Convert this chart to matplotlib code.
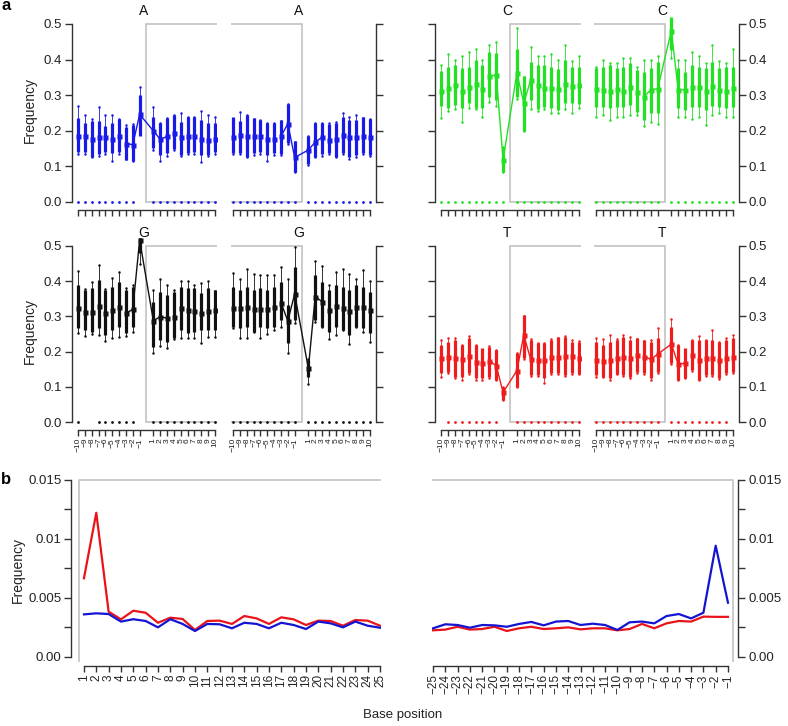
import matplotlib
matplotlib.use('Agg')
import matplotlib.pyplot as plt
from matplotlib.patches import Rectangle
import numpy as np

plt.rcParams['font.family'] = ['Liberation Sans', 'DejaVu Sans']

# ---------------- data: panel a ----------------
positions = [-10, -9, -8, -7, -6, -5, -4, -3, -2, -1, 1, 2, 3, 4, 5, 6, 7, 8, 9, 10]
pos_labels = ['−10', '−9', '−8', '−7', '−6', '−5', '−4', '−3', '−2', '−1',
              '1', '2', '3', '4', '5', '6', '7', '8', '9', '10']
trend_positions = [-3, -2, -1, 1, 2, 3]
letters = ['A', 'C', 'G', 'T']
y_ticks_a = [0.0, 0.1, 0.2, 0.3, 0.4, 0.5]
y_tick_labels_a = ['0.0', '0.1', '0.2', '0.3', '0.4', '0.5']

# A (left half = around site 1, right half = around site 2)
A_left_med = [0.184, 0.184, 0.176, 0.182, 0.182, 0.178, 0.186, 0.164, 0.161, 0.246,
              0.200, 0.176, 0.184, 0.195, 0.182, 0.184, 0.184, 0.178, 0.174, 0.178]
A_left_lo = [0.140, 0.140, 0.125, 0.135, 0.140, 0.137, 0.140, 0.118, 0.114, 0.184,
             0.151, 0.131, 0.137, 0.149, 0.131, 0.137, 0.140, 0.131, 0.131, 0.140]
A_left_hi = [0.235, 0.221, 0.228, 0.228, 0.213, 0.223, 0.233, 0.210, 0.217, 0.300,
             0.240, 0.221, 0.235, 0.244, 0.226, 0.240, 0.238, 0.230, 0.223, 0.223]
A_left_top = [0.270, 0.243, 0.232, 0.268, 0.243, 0.243, 0.232, 0.215, 0.220, 0.324,
              0.268, 0.222, 0.235, 0.244, 0.251, 0.240, 0.240, 0.256, 0.244, 0.240]
A_left_bot = [0.135, 0.135, 0.125, 0.130, 0.135, 0.114, 0.135, 0.120, 0.114, 0.190,
              0.145, 0.114, 0.130, 0.145, 0.128, 0.135, 0.135, 0.111, 0.128, 0.135]
A_right_med = [0.182, 0.187, 0.185, 0.184, 0.185, 0.178, 0.176, 0.184, 0.220, 0.125,
               0.146, 0.168, 0.182, 0.174, 0.176, 0.187, 0.182, 0.182, 0.185, 0.182]
A_right_lo = [0.137, 0.137, 0.127, 0.137, 0.140, 0.131, 0.137, 0.135, 0.165, 0.085,
              0.107, 0.127, 0.135, 0.137, 0.127, 0.137, 0.127, 0.131, 0.137, 0.131]
A_right_hi = [0.238, 0.228, 0.244, 0.235, 0.230, 0.221, 0.221, 0.230, 0.275, 0.170,
              0.184, 0.221, 0.221, 0.219, 0.223, 0.240, 0.230, 0.230, 0.238, 0.234]
A_right_top = [0.232, 0.252, 0.244, 0.232, 0.230, 0.222, 0.222, 0.228, 0.275, 0.168,
               0.184, 0.222, 0.222, 0.222, 0.225, 0.250, 0.238, 0.244, 0.236, 0.232]
A_right_bot = [0.135, 0.135, 0.127, 0.131, 0.135, 0.114, 0.133, 0.133, 0.163, 0.085,
               0.105, 0.125, 0.130, 0.135, 0.125, 0.135, 0.120, 0.127, 0.135, 0.130]
A_left_zero = [-10, -9, -8, -7, -6, -5, -4, -3, -2, 1, 2, 3, 4, 5, 6, 7, 8, 9, 10]
A_right_zero = [-10, -9, -8, -7, -6, -5, -4, -3, -2, -1, 1, 2, 3, 4, 5, 6, 7, 8, 9, 10]

# C
C_left_med = [0.313, 0.320, 0.329, 0.313, 0.322, 0.331, 0.316, 0.354, 0.356, 0.118,
              0.363, 0.277, 0.343, 0.328, 0.320, 0.320, 0.316, 0.331, 0.327, 0.329]
C_left_lo = [0.270, 0.263, 0.272, 0.263, 0.277, 0.263, 0.263, 0.296, 0.287, 0.085,
             0.296, 0.198, 0.287, 0.260, 0.268, 0.263, 0.258, 0.277, 0.279, 0.275]
C_left_hi = [0.368, 0.380, 0.385, 0.375, 0.380, 0.400, 0.385, 0.420, 0.418, 0.155,
             0.429, 0.354, 0.394, 0.385, 0.385, 0.380, 0.373, 0.400, 0.380, 0.380]
C_left_top = [0.385, 0.415, 0.400, 0.410, 0.420, 0.429, 0.400, 0.441, 0.448, 0.155,
              0.488, 0.350, 0.436, 0.410, 0.410, 0.415, 0.400, 0.440, 0.395, 0.410]
C_left_bot = [0.235, 0.255, 0.260, 0.226, 0.265, 0.260, 0.240, 0.280, 0.270, 0.085,
              0.290, 0.198, 0.260, 0.255, 0.260, 0.250, 0.250, 0.260, 0.250, 0.265]
C_right_med = [0.317, 0.315, 0.313, 0.316, 0.313, 0.324, 0.309, 0.296, 0.315, 0.318,
               0.481, 0.315, 0.315, 0.322, 0.322, 0.313, 0.326, 0.315, 0.313, 0.319]
C_right_lo = [0.268, 0.268, 0.263, 0.268, 0.268, 0.272, 0.254, 0.230, 0.249, 0.249,
              0.427, 0.263, 0.258, 0.268, 0.268, 0.258, 0.270, 0.268, 0.263, 0.268]
C_right_hi = [0.375, 0.380, 0.385, 0.375, 0.380, 0.390, 0.371, 0.366, 0.375, 0.394,
              0.520, 0.375, 0.366, 0.385, 0.380, 0.375, 0.394, 0.375, 0.380, 0.380]
C_right_top = [0.380, 0.400, 0.390, 0.390, 0.405, 0.405, 0.380, 0.400, 0.400, 0.410,
               0.515, 0.400, 0.400, 0.420, 0.410, 0.390, 0.440, 0.395, 0.390, 0.429]
C_right_bot = [0.240, 0.245, 0.230, 0.240, 0.240, 0.245, 0.245, 0.213, 0.226, 0.219,
               0.404, 0.240, 0.240, 0.232, 0.240, 0.216, 0.245, 0.250, 0.240, 0.240]
C_left_zero = [-10, -9, -8, -7, -6, -5, -4, -3, -2, -1, 1, 2, 3, 4, 5, 6, 7, 8, 9, 10]
C_right_zero = [-10, -9, -8, -7, -6, -5, -4, -3, -2, -1, 1, 2, 3, 4, 5, 6, 7, 8, 9, 10]

# G
G_left_med = [0.325, 0.313, 0.313, 0.330, 0.311, 0.318, 0.328, 0.309, 0.320, 0.517,
              0.288, 0.299, 0.295, 0.299, 0.324, 0.318, 0.316, 0.309, 0.316, 0.318]
G_left_lo = [0.266, 0.261, 0.257, 0.266, 0.247, 0.261, 0.271, 0.252, 0.271, 0.479,
             0.214, 0.233, 0.228, 0.238, 0.261, 0.252, 0.257, 0.261, 0.261, 0.261]
G_left_hi = [0.389, 0.375, 0.380, 0.403, 0.375, 0.384, 0.399, 0.375, 0.384, 0.522,
             0.342, 0.370, 0.361, 0.370, 0.384, 0.380, 0.380, 0.366, 0.380, 0.375]
G_left_top = [0.430, 0.378, 0.397, 0.447, 0.378, 0.410, 0.427, 0.380, 0.390, 0.520,
              0.376, 0.405, 0.390, 0.375, 0.400, 0.400, 0.390, 0.395, 0.400, 0.372]
G_left_bot = [0.253, 0.243, 0.250, 0.247, 0.230, 0.240, 0.242, 0.243, 0.255, 0.450,
              0.197, 0.217, 0.210, 0.235, 0.240, 0.238, 0.238, 0.223, 0.242, 0.242]
G_right_med = [0.324, 0.323, 0.328, 0.320, 0.322, 0.320, 0.328, 0.339, 0.287, 0.364,
               0.152, 0.356, 0.342, 0.318, 0.330, 0.323, 0.316, 0.328, 0.326, 0.318]
G_right_lo = [0.271, 0.266, 0.271, 0.257, 0.271, 0.266, 0.271, 0.290, 0.223, 0.290,
              0.129, 0.290, 0.271, 0.257, 0.271, 0.261, 0.247, 0.271, 0.266, 0.252]
G_right_hi = [0.384, 0.375, 0.384, 0.375, 0.380, 0.375, 0.384, 0.399, 0.332, 0.441,
              0.176, 0.418, 0.399, 0.375, 0.389, 0.384, 0.375, 0.389, 0.384, 0.370]
G_right_top = [0.422, 0.405, 0.435, 0.420, 0.418, 0.418, 0.418, 0.441, 0.405, 0.498,
               0.180, 0.458, 0.442, 0.390, 0.425, 0.435, 0.420, 0.405, 0.432, 0.400]
G_right_bot = [0.268, 0.238, 0.240, 0.255, 0.238, 0.250, 0.262, 0.270, 0.197, 0.280,
               0.108, 0.285, 0.270, 0.235, 0.248, 0.260, 0.222, 0.270, 0.255, 0.228]
G_left_zero = [-10, -7, -6, -5, -4, -3, -2, 1, 2, 3, 4, 5, 6, 7, 8, 9, 10]
G_right_zero = [-10, -9, -8, -7, -6, -5, -4, -3, -2, -1, 1, 2, 3, 4, 5, 6, 7, 8, 9, 10]

# T
T_left_med = [0.181, 0.184, 0.181, 0.180, 0.188, 0.171, 0.169, 0.174, 0.160, 0.084,
              0.146, 0.247, 0.178, 0.176, 0.176, 0.184, 0.186, 0.188, 0.188, 0.183]
T_left_lo = [0.138, 0.143, 0.129, 0.129, 0.138, 0.124, 0.124, 0.129, 0.119, 0.062,
             0.100, 0.181, 0.134, 0.134, 0.124, 0.138, 0.138, 0.134, 0.138, 0.136]
T_left_hi = [0.219, 0.228, 0.233, 0.219, 0.238, 0.219, 0.209, 0.214, 0.205, 0.100,
             0.195, 0.304, 0.233, 0.223, 0.223, 0.233, 0.242, 0.242, 0.228, 0.228]
T_left_top = [0.232, 0.240, 0.240, 0.220, 0.245, 0.220, 0.205, 0.215, 0.205, 0.100,
              0.195, 0.300, 0.236, 0.225, 0.224, 0.235, 0.240, 0.244, 0.232, 0.230]
T_left_bot = [0.128, 0.140, 0.125, 0.118, 0.135, 0.120, 0.120, 0.125, 0.118, 0.062,
              0.100, 0.178, 0.130, 0.130, 0.112, 0.135, 0.135, 0.132, 0.136, 0.135]
T_right_med = [0.176, 0.174, 0.176, 0.182, 0.186, 0.182, 0.189, 0.186, 0.178, 0.193,
               0.221, 0.164, 0.167, 0.189, 0.176, 0.181, 0.181, 0.176, 0.182, 0.186]
T_right_lo = [0.134, 0.129, 0.124, 0.136, 0.134, 0.129, 0.143, 0.138, 0.124, 0.143,
              0.167, 0.119, 0.124, 0.148, 0.119, 0.134, 0.134, 0.124, 0.138, 0.143]
T_right_hi = [0.228, 0.219, 0.228, 0.233, 0.242, 0.233, 0.238, 0.233, 0.228, 0.238,
              0.271, 0.219, 0.209, 0.233, 0.233, 0.233, 0.233, 0.228, 0.233, 0.238]
T_right_top = [0.240, 0.235, 0.246, 0.235, 0.248, 0.242, 0.235, 0.230, 0.232, 0.266,
               0.293, 0.220, 0.205, 0.232, 0.244, 0.232, 0.261, 0.228, 0.240, 0.246]
T_right_bot = [0.128, 0.128, 0.120, 0.135, 0.130, 0.125, 0.140, 0.135, 0.120, 0.140,
               0.165, 0.120, 0.125, 0.145, 0.118, 0.130, 0.132, 0.122, 0.135, 0.140]
T_left_zero = [-9, -8, -7, -6, -5, -4, -3, -2, 1, 2, 3, 4, 5, 6, 7, 8, 9, 10]
T_right_zero = [-10, -9, -8, -7, -6, -5, -4, -3, -2, -1, 1, 2, 3, 4, 5, 6, 7, 8, 9]

# ---------------- data: panel b ----------------
b_left_pos = list(range(1, 26))
b_left_red = [0.00667, 0.01222, 0.00384, 0.00319, 0.00392, 0.00375, 0.00290, 0.00333, 0.00322, 0.00229,
              0.00305, 0.00308, 0.00280, 0.00347, 0.00327, 0.00280, 0.00336, 0.00319, 0.00271, 0.00308,
              0.00305, 0.00265, 0.00313, 0.00308, 0.00265]
b_left_blue = [0.00361, 0.00370, 0.00364, 0.00300, 0.00320, 0.00305, 0.00251, 0.00320, 0.00280, 0.00220,
               0.00280, 0.00277, 0.00243, 0.00290, 0.00280, 0.00243, 0.00290, 0.00271, 0.00237, 0.00300,
               0.00285, 0.00251, 0.00300, 0.00265, 0.00248]
b_right_pos = list(range(-25, 0))
b_right_blue = [0.00243, 0.00277, 0.00271, 0.00248, 0.00271, 0.00268, 0.00256, 0.00280, 0.00297, 0.00268,
                0.00300, 0.00305, 0.00271, 0.00282, 0.00271, 0.00229, 0.00294, 0.00300, 0.00285, 0.00347,
                0.00364, 0.00327, 0.00375, 0.00943, 0.00460]
b_right_red = [0.00226, 0.00232, 0.00256, 0.00232, 0.00237, 0.00256, 0.00220, 0.00243, 0.00256, 0.00237,
               0.00243, 0.00251, 0.00234, 0.00243, 0.00243, 0.00226, 0.00237, 0.00280, 0.00243, 0.00285,
               0.00305, 0.00300, 0.00342, 0.00340, 0.00340]
b_yticks = [0.0, 0.0025, 0.005, 0.0075, 0.01, 0.0125, 0.015]
b_ytick_labels = ['0.00', '', '0.005', '', '0.01', '', '0.015']

# ---------------- figure ----------------
W, H = 788, 726
fig = plt.figure(figsize=(W / 100, H / 100), dpi=100)


def px_axes(x0, x1, y0, y1):
    return fig.add_axes([x0 / W, 1 - y1 / H, (x1 - x0) / W, (y1 - y0) / H])


AX_COL = '#333333'
GRAY = '#bdbdbd'
colors = {'A': '#1a1ae6', 'C': '#22e022', 'G': '#111111', 'T': '#ee1c1c'}

panels = {
    'A': dict(left=(A_left_med, A_left_lo, A_left_hi, A_left_top, A_left_bot, A_left_zero),
              right=(A_right_med, A_right_lo, A_right_hi, A_right_top, A_right_bot, A_right_zero)),
    'C': dict(left=(C_left_med, C_left_lo, C_left_hi, C_left_top, C_left_bot, C_left_zero),
              right=(C_right_med, C_right_lo, C_right_hi, C_right_top, C_right_bot, C_right_zero)),
    'G': dict(left=(G_left_med, G_left_lo, G_left_hi, G_left_top, G_left_bot, G_left_zero),
              right=(G_right_med, G_right_lo, G_right_hi, G_right_top, G_right_bot, G_right_zero)),
    'T': dict(left=(T_left_med, T_left_lo, T_left_hi, T_left_top, T_left_bot, T_left_zero),
              right=(T_right_med, T_right_lo, T_right_hi, T_right_top, T_right_bot, T_right_zero)),
}

col_px = [((72, 217), (231, 376)), ((435, 581), (594, 739))]
row_px = [(13.3, 207.3), (235.4, 427.3)]
layout = {'A': (0, 0), 'C': (0, 1), 'G': (1, 0), 'T': (1, 1)}


def style_common(ax):
    for s in ax.spines.values():
        s.set_color(AX_COL)
        s.set_linewidth(1.0)
    ax.tick_params(colors=AX_COL, width=1.0, length=5)


for letter in letters:
    r, c = layout[letter]
    col = colors[letter]
    y0, y1 = row_px[r]
    for half in ('left', 'right'):
        x0, x1 = col_px[c][0] if half == 'left' else col_px[c][1]
        ax = px_axes(x0, x1, y0, y1)
        med, lo, hi, top, bot, zpos = panels[letter][half]
        if half == 'left':
            ax.set_xlim(-10.88, 10.3)
            ax.add_patch(Rectangle((0, 0), 40, 0.5, fill=False, ec=GRAY, lw=1.1, zorder=1))
        else:
            ax.set_xlim(-10.3, 10.88)
            ax.add_patch(Rectangle((-40, 0), 40, 0.5, fill=False, ec=GRAY, lw=1.1, zorder=1))
        ax.set_ylim(-0.015, 0.53)
        # zero-frequency observations
        ax.plot(zpos, [0.0] * len(zpos), 'o', ms=2.0, color=col, mec='none', zorder=3)
        # thin whiskers with extreme observations
        ax.vlines(positions, bot, top, color=col, lw=0.6, zorder=2)
        ax.plot(positions, top, 'o', ms=1.8, color=col, mec='none', zorder=3)
        ax.plot(positions, bot, 'o', ms=1.8, color=col, mec='none', zorder=3)
        # thick central bars
        ax.vlines(positions, lo, hi, color=col, lw=2.3, zorder=3)
        # connecting line around the site and median squares
        tmed = [med[positions.index(p)] for p in trend_positions]
        ax.plot(trend_positions, tmed, '-', color=col, lw=1.0, zorder=3)
        ax.plot(positions, med, 's', ms=3.6, color=col, mec='none', zorder=4)

        style_common(ax)
        ax.spines['top'].set_visible(False)
        ax.spines['bottom'].set_bounds(-10, 10)
        ax.spines['bottom'].set_position(('outward', 2))
        ax.set_xticks(positions)
        ax.tick_params(axis='x', length=4.2, pad=1.5)
        if r == 1:
            ax.set_xticklabels(pos_labels, rotation=90, fontsize=6, color='#222222')
        else:
            ax.set_xticklabels([])
        ax.set_yticks(y_ticks_a)
        if half == 'left':
            ax.spines['right'].set_visible(False)
            ax.spines['left'].set_bounds(0, 0.5)
            ax.yaxis.set_ticks_position('left')
            if c == 0:
                ax.set_yticklabels(y_tick_labels_a, fontsize=9.5, color='#222222')
                ax.set_ylabel('Frequency', fontsize=10, color='#222222', labelpad=5)
            else:
                ax.set_yticklabels([])
        else:
            ax.spines['left'].set_visible(False)
            ax.spines['right'].set_bounds(0, 0.5)
            ax.yaxis.set_ticks_position('right')
            if c == 1:
                ax.set_yticklabels(y_tick_labels_a, fontsize=9.5, color='#222222')
            else:
                ax.set_yticklabels([])
        ax.tick_params(axis='y', length=5, pad=2)
        ax.set_facecolor('none')
        ax.text(-0.4, 0.537, letter, ha='center', va='center', fontsize=10, color='#111111',
                clip_on=False)

# ---------------- panel b ----------------
RED_B = '#e8141a'
BLUE_B = '#1414d2'
b_y0, b_y1 = 478.8, 661.7
axL = px_axes(71, 380.6, b_y0, b_y1)
axR = px_axes(431.8, 738.3, b_y0, b_y1)
for ax, pos, red, blue, half in ((axL, b_left_pos, b_left_red, b_left_blue, 'left'),
                                 (axR, b_right_pos, b_right_red, b_right_blue, 'right')):
    ax.set_ylim(-0.0004, 0.0151)
    if half == 'left':
        ax.set_xlim(-0.05, 25.05)
        ax.plot([0.6, 0.6, 30], [-0.0004, 0.015, 0.015], color=GRAY, lw=1.1, zorder=1)
    else:
        ax.set_xlim(-25.1, -0.16)
        ax.plot([-30, -0.6, -0.6], [0.015, 0.015, -0.0004], color=GRAY, lw=1.1, zorder=1)
    ax.plot(pos, red, color=RED_B, lw=1.6, zorder=3)
    ax.plot(pos, blue, color=BLUE_B, lw=1.6, zorder=3)
    style_common(ax)
    ax.spines['top'].set_visible(False)
    ax.spines['bottom'].set_bounds(pos[0], pos[-1])
    ax.spines['bottom'].set_position(('outward', 3))
    ax.set_xticks(pos)
    ax.set_xticklabels([str(p).replace('-', '−') for p in pos], rotation=90, fontsize=8.5,
                       color='#222222')
    ax.tick_params(axis='x', length=4.5, pad=1.5)
    ax.set_yticks(b_yticks)
    ax.set_yticklabels(b_ytick_labels, fontsize=9.5, color='#222222')
    ax.tick_params(axis='y', length=5, pad=2)
    ax.set_facecolor('none')
    if half == 'left':
        ax.spines['right'].set_visible(False)
        ax.spines['left'].set_bounds(0, 0.015)
        ax.yaxis.set_ticks_position('left')
        ax.set_ylabel('Frequency', fontsize=10, color='#222222', labelpad=2)
    else:
        ax.spines['left'].set_visible(False)
        ax.spines['right'].set_bounds(0, 0.015)
        ax.yaxis.set_ticks_position('right')

fig.text(403 / W, 1 - 715 / H, 'Base position', ha='center', va='center', fontsize=9.5,
         color='#222222')
fig.text(1 / W, 1 - 6 / H, 'a', ha='left', va='center', fontsize=12, fontweight='bold')
fig.text(1 / W, 1 - 480 / H, 'b', ha='left', va='center', fontsize=12, fontweight='bold')

fig.savefig('out.png', dpi=100)
